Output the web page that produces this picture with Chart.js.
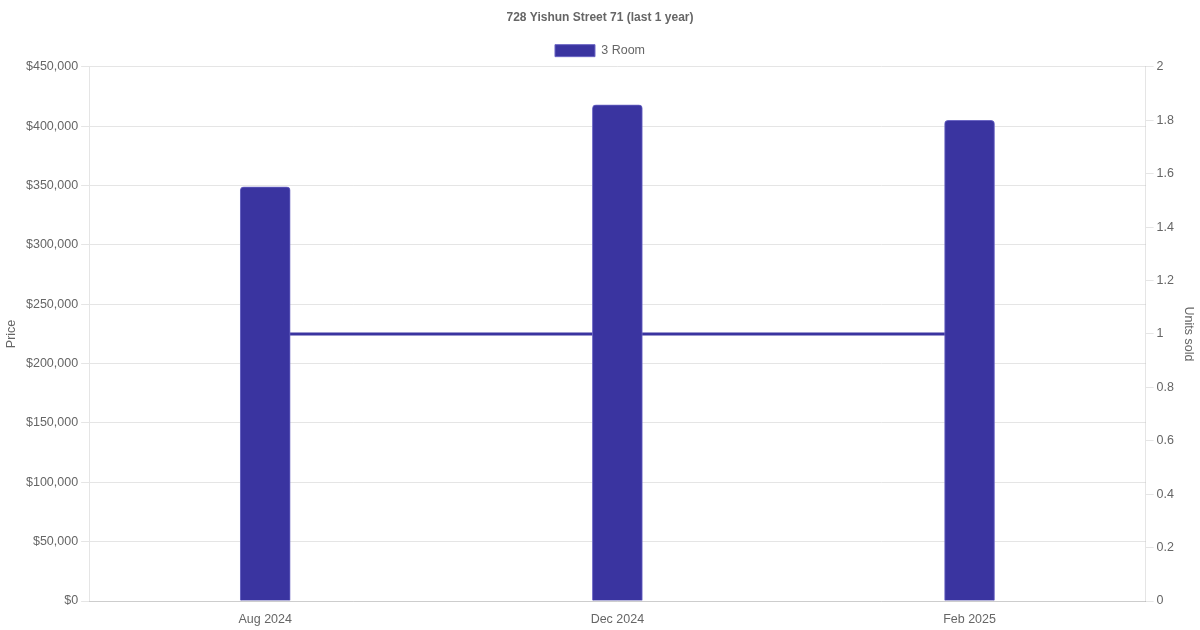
<!DOCTYPE html>
<html>
<head>
<meta charset="utf-8">
<script src="https://cdn.jsdelivr.net/npm/chart.js@4/dist/chart.umd.min.js"></script>
<style>
  html, body { margin: 0; padding: 0; background: #fff; }
  #wrap { width: 1200px; height: 630px; }
</style>
</head>
<body>
<div id="wrap"><canvas id="chart"></canvas></div>
<script>
// chart data
const months = ["Aug 2024", "Dec 2024", "Feb 2025"];
const prices = [349000, 418000, 405000];
const unitsSold = [1, 1, 1];

const BAR_COLOR = "#3a34a0";

Chart.defaults.font.family = "'Liberation Sans', Arial, sans-serif";
Chart.defaults.font.size = 12.5;
Chart.defaults.color = "#666";

const ctx = document.getElementById("chart").getContext("2d");

new Chart(ctx, {
  type: "bar",
  data: {
    labels: months,
    datasets: [
      {
        type: "bar",
        label: "3 Room",
        data: prices,
        backgroundColor: BAR_COLOR,
        borderColor: "#6b66c4",
        borderWidth: 1,
        borderRadius: 4,
        borderSkipped: "bottom",
        barThickness: 50,
        yAxisID: "y",
        order: 1
      },
      {
        type: "line",
        label: "Units sold",
        data: unitsSold,
        borderColor: BAR_COLOR,
        backgroundColor: BAR_COLOR,
        borderWidth: 3,
        pointRadius: 0,
        fill: false,
        yAxisID: "y1",
        order: 2
      }
    ]
  },
  options: {
    responsive: true,
    maintainAspectRatio: false,
    animation: false,
    layout: { padding: 0 },
    plugins: {
      title: {
        display: true,
        text: "728 Yishun Street 71 (last 1 year)",
        font: { size: 12, weight: "bold" },
        padding: { top: 10, bottom: 10 }
      },
      legend: {
        labels: {
          boxWidth: 40,
          boxHeight: 12,
          filter: item => item.text === "3 Room"
        }
      },
      tooltip: { enabled: false }
    },
    scales: {
      x: {
        grid: { display: false }
      },
      y: {
        position: "left",
        min: 0,
        max: 450000,
        ticks: {
          stepSize: 50000,
          callback: v => "$" + v.toLocaleString("en-US")
        },
        title: { display: true, text: "Price" },
        grid: { color: "#e5e5e5" }
      },
      y1: {
        position: "right",
        min: 0,
        max: 2,
        ticks: {
          stepSize: 0.2,
          callback: v => String(Math.round(v * 10) / 10)
        },
        title: { display: true, text: "Units sold" },
        grid: { drawOnChartArea: false, color: "#e5e5e5" }
      }
    }
  }
});
</script>
</body>
</html>
